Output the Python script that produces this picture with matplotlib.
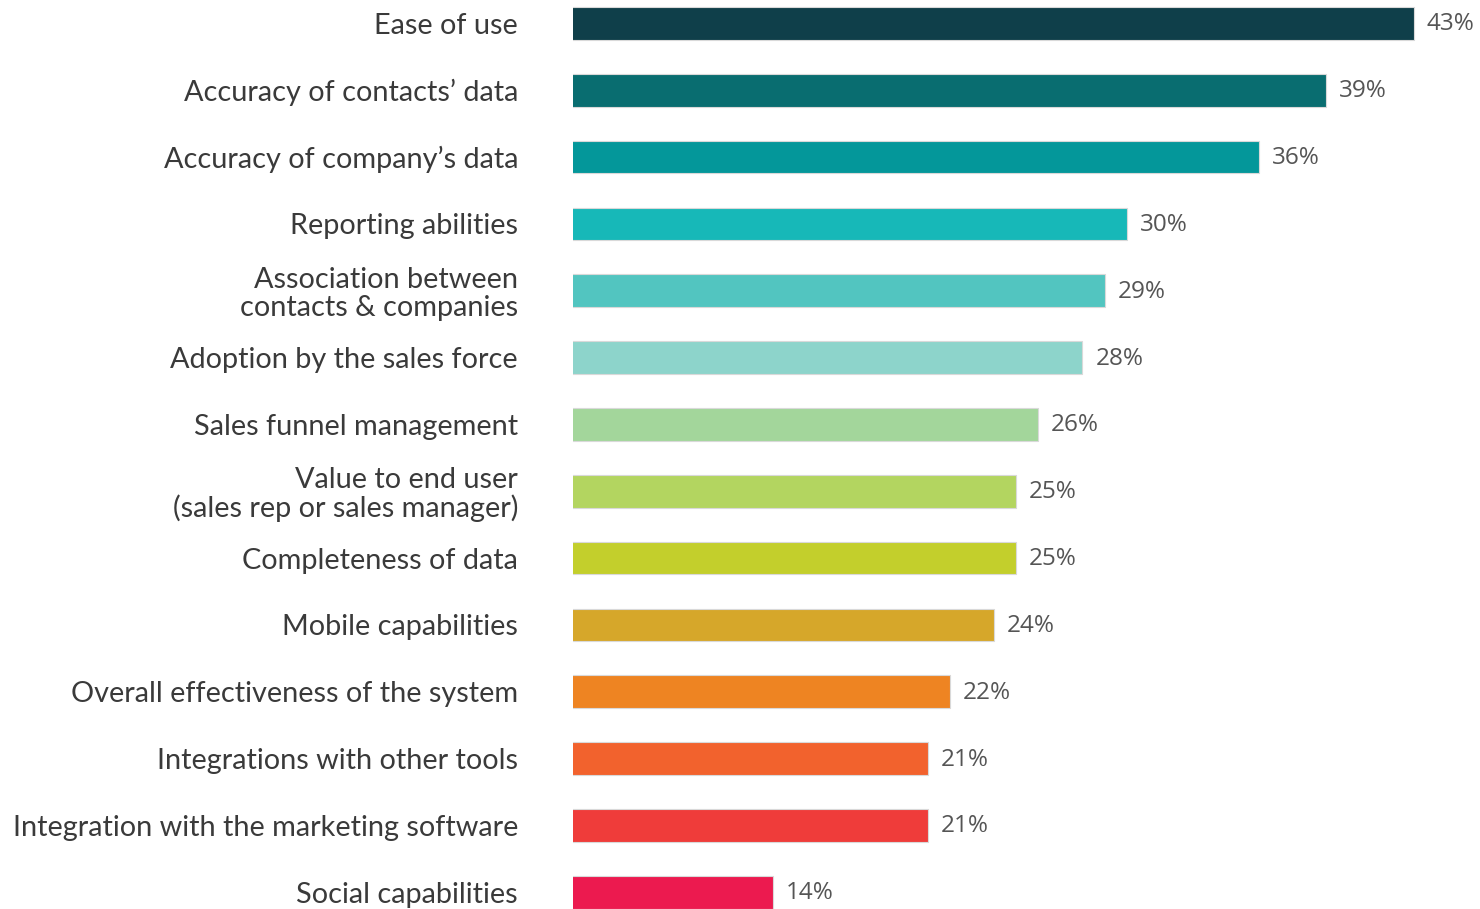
import matplotlib
matplotlib.use("Agg")
import matplotlib.pyplot as plt

categories = [
    "Ease of use",
    "Accuracy of contacts\u2019 data",
    "Accuracy of company\u2019s data",
    "Reporting abilities",
    "Association between\ncontacts & companies",
    "Adoption by the sales force",
    "Sales funnel management",
    "Value to end user\n(sales rep or sales manager)",
    "Completeness of data",
    "Mobile capabilities",
    "Overall effectiveness of the system",
    "Integrations with other tools",
    "Integration with the marketing software",
    "Social capabilities",
]
values = [43, 39, 36, 30, 29, 28, 26, 25, 25, 24, 22, 21, 21, 14]
colors = [
    "#0f3f4a", "#096d70", "#04979a", "#17b8b8", "#52c5c0", "#8dd4cb", "#a3d69b",
    "#b3d560", "#c3cf2c", "#d6a72a", "#ee8422", "#f2622d", "#ef3c3a", "#ec1a4f",
]

fig = plt.figure(figsize=(14.8, 9.09), dpi=100)
ax = fig.add_axes([573 / 1480, 0, 907 / 1480, 1])

y = list(range(len(categories)))
ax.barh(y, values, height=0.49, color=colors, edgecolor="#d9d9d9", linewidth=0.8)

# axis starts near 5, bars begin at the left edge
ax.set_xlim(4.95, 45.99)
ax.set_ylim(13.25, -0.35)

for i, v in enumerate(values):
    ax.annotate(f"{v}%", xy=(v, i), xytext=(13, -1), textcoords="offset pixels",
                va="center", ha="left", fontsize=17.5, color="#555555",
                family="Open Sans", weight="medium", annotation_clip=False)

ax.set_yticks(y)
ax.set_yticklabels(categories, fontsize=20.8, color="#3a3a3a", family="Lato",
                   linespacing=1.08)
ax.tick_params(axis="y", length=0, pad=39.6)
ax.set_xticks([])
for s in ax.spines.values():
    s.set_visible(False)

fig.savefig("out.png", dpi=100)
